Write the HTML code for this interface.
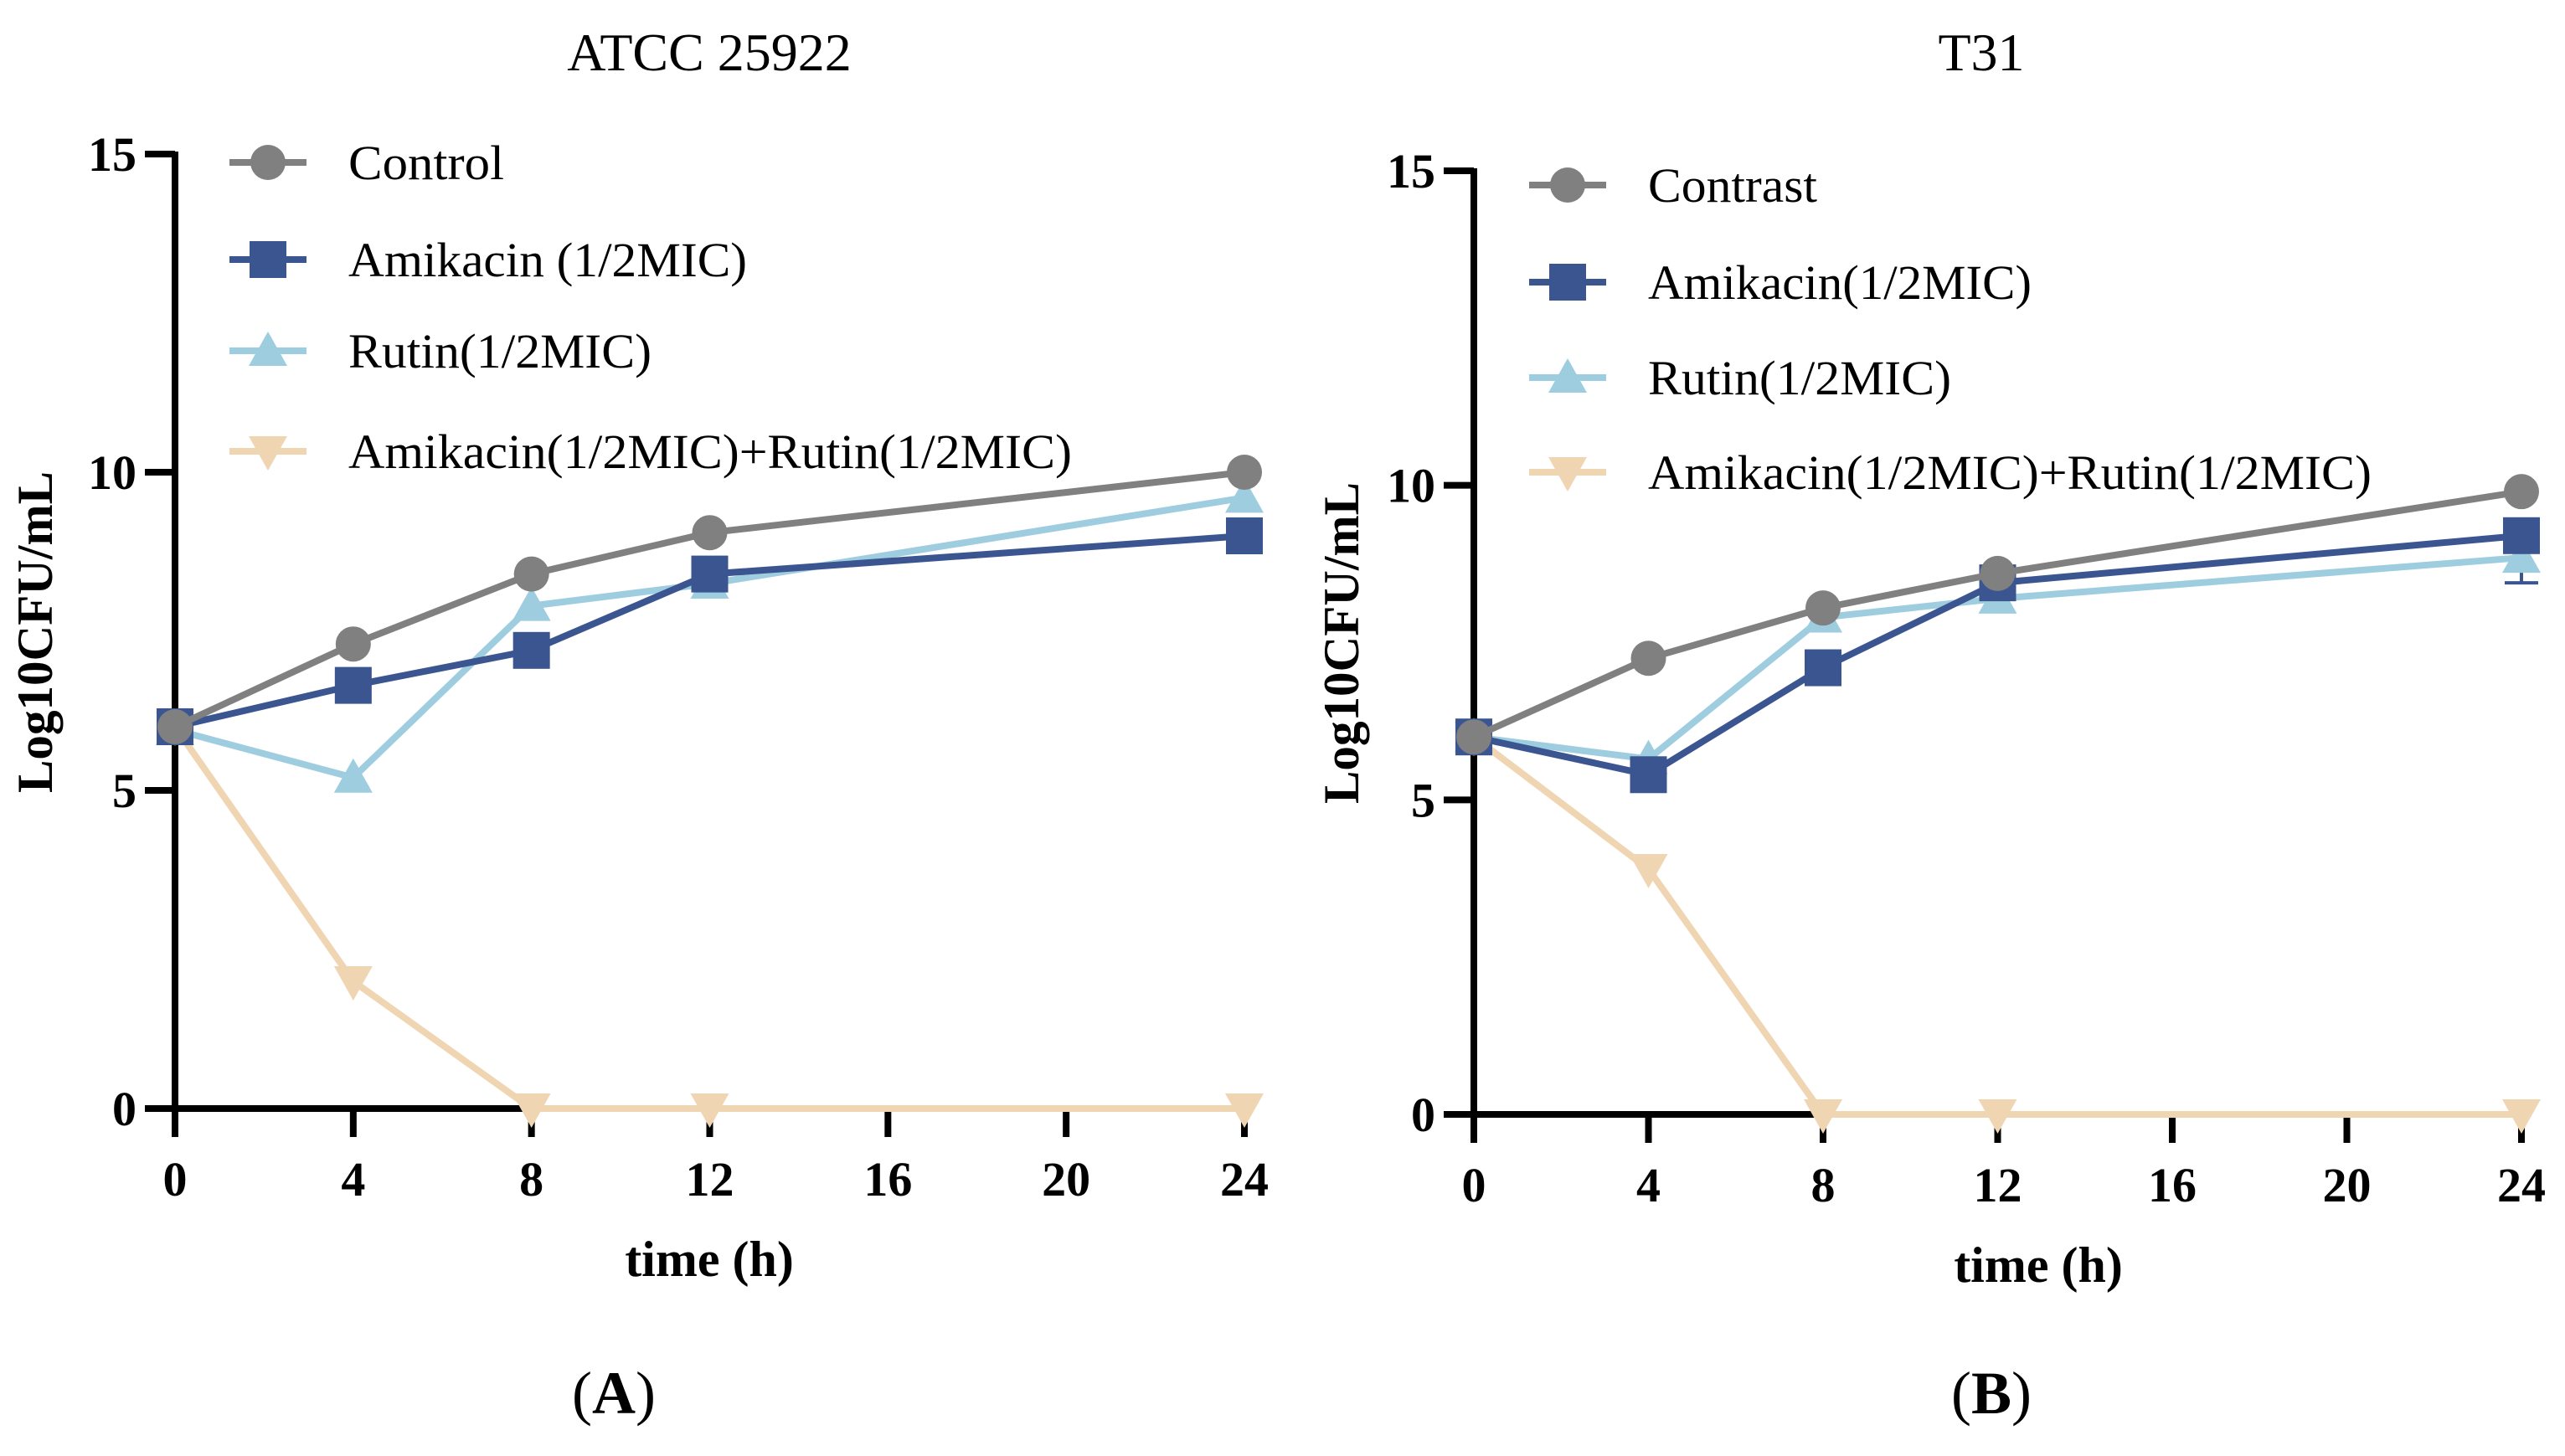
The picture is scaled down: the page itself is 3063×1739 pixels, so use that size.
<!DOCTYPE html>
<html><head><meta charset="utf-8"><style>
html,body{margin:0;padding:0;background:#fff;}
svg{display:block;font-family:"Liberation Serif",serif;}
</style></head><body>
<svg id="chart" width="3063" height="1739" viewBox="0 0 3063 1739" xmlns="http://www.w3.org/2000/svg"></svg>
<script>
const times = [0, 4, 8, 12, 24];
const xTicks = [0, 4, 8, 12, 16, 20, 24];
const yTicks = [0, 5, 10, 15];
const seriesNames = ["control", "amikacin", "rutin", "combination"];
const seriesColors = ["#808080", "#3b5591", "#9fcde0", "#f0d5b3"];
const seriesMarkers = ["circle", "square", "triangle-up", "triangle-down"];
const legendA = ["Control", "Amikacin (1/2MIC)", "Rutin(1/2MIC)", "Amikacin(1/2MIC)+Rutin(1/2MIC)"];
const legendB = ["Contrast", "Amikacin(1/2MIC)", "Rutin(1/2MIC)", "Amikacin(1/2MIC)+Rutin(1/2MIC)"];
const aControl = [6.0, 7.3, 8.4, 9.05, 10.0];
const aAmikacin = [6.0, 6.65, 7.2, 8.4, 9.0];
const aRutin = [5.95, 5.2, 7.9, 8.25, 9.6];
const aCombo = [6.0, 2.0, 0, 0, 0];
const bControl = [6.0, 7.25, 8.05, 8.6, 9.9];
const bAmikacin = [6.0, 5.4, 7.1, 8.45, 9.2];
const bRutin = [6.0, 5.65, 7.9, 8.2, 8.85];
const bCombo = [6.0, 3.9, 0, 0, 0];
const bRutinErr = [0, 0, 0, 0, 0.4];

const NS = "http://www.w3.org/2000/svg";
const svg = document.getElementById("chart");
function mk(tag, attrs, parent){
  const e = document.createElementNS(NS, tag);
  for (const k in attrs) e.setAttribute(k, attrs[k]);
  (parent || svg).appendChild(e);
  return e;
}
function marker(type, cx, cy, color, parent){
  let e;
  if (type === "circle") e = mk("circle", {cx: cx, cy: cy, r: 21, fill: color}, parent);
  else if (type === "square") e = mk("rect", {x: cx-22, y: cy-22, width: 44, height: 44, fill: color}, parent);
  else if (type === "triangle-up") e = mk("polygon", {points: `${cx},${cy-23} ${cx+23},${cy+18} ${cx-23},${cy+18}`, fill: color}, parent);
  else e = mk("polygon", {points: `${cx},${cy+23} ${cx+23},${cy-18} ${cx-23},${cy-18}`, fill: color}, parent);
  return e;
}

function panel(cfg){
  const g = mk("g", {});
  
  
  const X = v => cfg.x0 + (v - 0) / 24 * (cfg.x1 - cfg.x0);
  const Y = v => cfg.y0 - v / 15 * (cfg.y0 - cfg.y1);
  const ya = mk("line", {x1: X(0), y1: Y(15)-3, x2: X(0), y2: Y(0)+4, stroke: "#000", "stroke-width": 8}, g);
  
  
  const xa = mk("line", {x1: X(0)-4, y1: Y(0), x2: X(24)+4, y2: Y(0), stroke: "#000", "stroke-width": 8}, g);
  
  
  yTicks.forEach(t => {
    mk("line", {x1: X(0)-36, y1: Y(t), x2: X(0), y2: Y(t), stroke: "#000", "stroke-width": 8}, g);
    const tl = mk("text", {x: X(0)-46, y: Y(t)+20, "text-anchor": "end", "font-size": 58, "font-weight": "bold"}, g);
    tl.textContent = t;
    
    
  });
  xTicks.forEach(t => {
    mk("line", {x1: X(t), y1: Y(0), x2: X(t), y2: Y(0)+34, stroke: "#000", "stroke-width": 8}, g);
    const tl = mk("text", {x: X(t), y: Y(0)+104, "text-anchor": "middle", "font-size": 58, "font-weight": "bold"}, g);
    tl.textContent = t;
    
    
  });
  const ti = mk("text", {x: cfg.titleX, y: 84, "text-anchor": "middle", "font-size": 64}, g);
  ti.textContent = cfg.title;
  
  
  const xt = mk("text", {x: cfg.xTitleX, y: cfg.y0 + 200, "text-anchor": "middle", "font-size": 60, "font-weight": "bold"}, g);
  xt.textContent = "time (h)";
  
  
  const yt = mk("text", {x: 0, y: 0, "text-anchor": "middle", "font-size": 60, "font-weight": "bold", transform: `translate(${cfg.yTitleX},${cfg.yTitleY}) rotate(-90)`, textLength: 384, lengthAdjust: "spacingAndGlyphs"}, g);
  yt.textContent = "Log10CFU/mL";
  
  
  const order = [3, 2, 1, 0];
  order.forEach(i => {
    const vals = cfg.data[i];
    const sg = mk("g", {}, g);
    
    
    const pts = times.map((t, k) => X(t) + "," + Y(vals[k])).join(" ");
    const pl = mk("polyline", {points: pts, fill: "none", stroke: seriesColors[i], "stroke-width": 8, "stroke-linejoin": "round"}, sg);
    
    
    if (cfg.err && i === 2) {
      times.forEach((t, k) => {
        const e = cfg.err[k];
        if (e > 0) {
          mk("line", {x1: X(t), y1: Y(vals[k]+e), x2: X(t), y2: Y(vals[k]-e), stroke: "#3b5591", "stroke-width": 4}, sg);
          mk("line", {x1: X(t)-20, y1: Y(vals[k]-e), x2: X(t)+20, y2: Y(vals[k]-e), stroke: "#3b5591", "stroke-width": 4}, sg);
        }
      });
    }
    times.forEach((t, k) => {
      const m = marker(seriesMarkers[i], X(t), Y(vals[k]), seriesColors[i], sg);
      
      
    });
  });
  cfg.legend.forEach((lab, i) => {
    const lg = mk("g", {}, g);
    
    
    const ly = cfg.legY[i];
    mk("line", {x1: cfg.legX, y1: ly, x2: cfg.legX + 92, y2: ly, stroke: seriesColors[i], "stroke-width": 8}, lg);
    marker(seriesMarkers[i], cfg.legX + 46, ly, seriesColors[i], lg);
    const tx = mk("text", {x: cfg.legX + 142, y: ly + 20, "font-size": 58, textLength: cfg.legLen[i], lengthAdjust: "spacingAndGlyphs"}, lg);
    tx.textContent = lab;
  });
  const pl = mk("text", {x: cfg.labX, y: 1688, "text-anchor": "middle", "font-size": 72}, g);
  pl.innerHTML = '(<tspan font-weight="bold">' + cfg.letter + '</tspan>)';
  
  
}

panel({name: "panel-a", x0: 209, x1: 1486, y0: 1324, y1: 184, title: "ATCC 25922", titleX: 847,
  xTitleX: 847, yTitleX: 62, yTitleY: 755, data: [aControl, aAmikacin, aRutin, aCombo],
  legend: legendA, legX: 274, legY: [194, 310, 419, 539], legLen: [186, 476, 362, 864], labX: 733, letter: "A"});
panel({name: "panel-b", x0: 1760, x1: 3011, y0: 1331, y1: 204, title: "T31", titleX: 2366,
  xTitleX: 2434, yTitleX: 1622, yTitleY: 768, data: [bControl, bAmikacin, bRutin, bCombo], err: bRutinErr,
  legend: legendB, legX: 1826, legY: [221, 337, 451, 564], legLen: [202, 458, 362, 864], labX: 2378, letter: "B"});
</script>
</body></html>
